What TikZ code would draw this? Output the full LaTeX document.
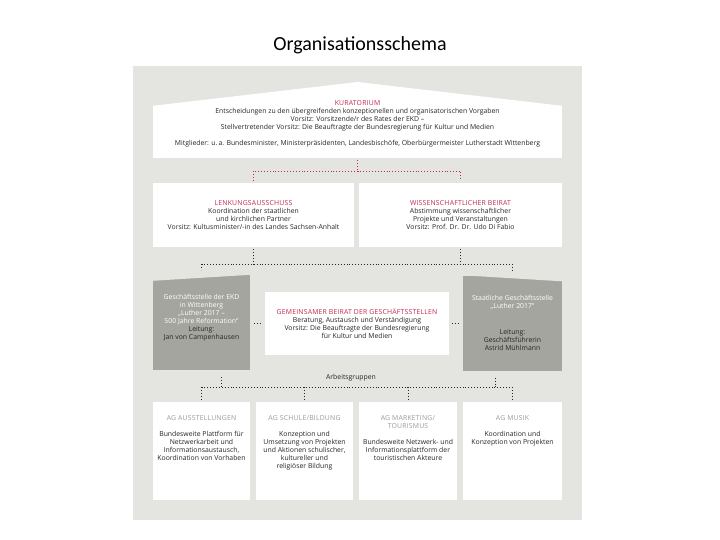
\documentclass[tikz,border=0pt]{standalone}
\usepackage{fontspec}
\setmainfont{Open Sans}
\newfontfamily\capsfont[LetterSpace=3]{Open Sans}
\newfontfamily\titlefont{Carlito}
\usepackage{xcolor}
\usetikzlibrary{positioning}
\definecolor{panelgrey}{HTML}{E4E5E0}
\definecolor{boxgrey}{HTML}{A4A59E}
\definecolor{kured}{HTML}{C2294F}
\definecolor{aggrey}{HTML}{9A9A98}
\definecolor{bodytext}{HTML}{262626}
\newcommand{\bodyfont}{\fontsize{6.85}{8}\selectfont}
\newcommand{\redhead}[1]{{\color{kured}\capsfont #1}}
\newcommand{\aghead}[1]{{\color{aggrey}\capsfont #1}}
\newcommand{\dark}[1]{{\color{bodytext}#1}}
\begin{document}
\begin{tikzpicture}[
x=1pt, y=-1pt,
Box/.style={fill=white, inner sep=0pt, align=center, text=bodytext, font=\bodyfont},
GreyBox/.style={fill=boxgrey, inner sep=0pt, align=center, text=white, font=\bodyfont},
Txt/.style={inner sep=0pt, align=center, text=bodytext, font=\bodyfont},
RedDots/.style={draw=kured, dotted, line width=0.9pt},
BlackDots/.style={draw=bodytext, dotted, line width=0.9pt}
]
\useasboundingbox (0,0) rectangle (720,540);
\fill[panelgrey] (133,66) rectangle (582,520);

\node[font=\titlefont\fontsize{20}{24}\selectfont] (title) at (360,45) {Organisationsschema};

% Kuratorium (house shape)
\coordinate (apex) at (357.5,82);
\node[Box, minimum width=409pt, minimum height=52pt] (kur) at (357.5,132) {};
\fill[white] (kur.north west) -- (apex) -- (kur.north east) -- cycle;
\node[Txt] (kurtxt) at (357.5,124) {\redhead{KURATORIUM}\\
Entscheidungen zu den übergreifenden konzeptionellen und organisatorischen Vorgaben\\
Vorsitz: Vorsitzende/r des Rates der EKD –\\
Stellvertretender Vorsitz: Die Beauftragte der Bundesregierung für Kultur und Medien\\[7.9pt]
Mitglieder: u.\,a. Bundesminister, Ministerpräsidenten, Landesbischöfe, Oberbürgermeister Lutherstadt Wittenberg};

% boards
\node[Box, minimum width=201pt, minimum height=64pt] (lenk) at (253.5,215) {\redhead{LENKUNGSAUSSCHUSS}\\
Koordination der staatlichen\\ und kirchlichen Partner\\
Vorsitz: Kultusminister/-in des Landes Sachsen-Anhalt};
\node[Box, minimum width=203pt, minimum height=64pt] (wiss) at (460.5,215) {\redhead{WISSENSCHAFTLICHER BEIRAT}\\
Abstimmung wissenschaftlicher\\ Projekte und Veranstaltungen\\
Vorsitz: Prof. Dr. Dr. Udo Di Fabio};

\coordinate (kurjoin) at (357.5,171);
\draw[RedDots, shorten <=2pt] (kur.south) -- (kurjoin);
\draw[RedDots, shorten >=2pt] (kurjoin) -- (lenk.north |- kurjoin) -- (lenk.north);
\draw[RedDots, shorten >=2pt] (kurjoin) -- (wiss.north |- kurjoin) -- (wiss.north);

% Geschaeftsstellen
\node[GreyBox, minimum width=97pt, minimum height=95pt] (gl) at (201.5,322.5) {};
\fill[panelgrey] (gl.north west) -- (gl.north east) -- ([yshift=-6pt]gl.north west) -- cycle;
\node[Txt, text=white] (gltxt) at (201.5,318) {Geschäftsstelle der EKD\\ in Wittenberg\\
„Luther 2017 –\\ 500 Jahre Reformation“\\ \dark{Leitung:}\\ \dark{Jan von Campenhausen}};

\node[GreyBox, minimum width=99pt, minimum height=95pt] (gr) at (512.5,323) {Staatliche Geschäftsstelle\\
„Luther 2017“\\[18pt] \dark{Leitung:}\\ \dark{Geschäftsführerin}\\ \dark{Astrid Mühlmann}};
\fill[panelgrey] (gr.north west) -- (gr.north east) -- ([yshift=-6pt]gr.north east) -- cycle;

\node[Box, minimum width=184pt, minimum height=63pt] (gm) at (357,323.5) {\redhead{GEMEINSAMER BEIRAT DER GESCHÄFTSSTELLEN}\\
Beratung, Austausch und Verständigung\\
Vorsitz: Die Beauftragte der Bundesregierung\\ für Kultur und Medien};

\coordinate (boardjoin) at (357,264);
\draw[BlackDots, shorten <=2pt] (lenk.south) -- (lenk.south |- boardjoin);
\draw[BlackDots, shorten <=2pt] (wiss.south) -- (wiss.south |- boardjoin);
\draw[BlackDots] (gl.north |- boardjoin) -- (gr.north |- boardjoin);
\draw[BlackDots, shorten >=5pt] (gl.north |- boardjoin) -- (gl.north);
\draw[BlackDots, shorten >=5pt] (gr.north |- boardjoin) -- (gr.north);

\draw[BlackDots] ([xshift=4pt]gm.west -| gl.east) -- ([xshift=-3pt]gm.west);
\draw[BlackDots] ([xshift=3pt]gm.east) -- ([xshift=-4pt]gm.east -| gr.west);

% Arbeitsgruppen
\node[Txt] (aglabel) at (351,378) {Arbeitsgruppen};

\node[Box, minimum width=97pt, minimum height=98pt] (ag1) at (201.5,451) {};
\node[Box, minimum width=97pt, minimum height=98pt] (ag2) at (304.5,451) {};
\node[Box, minimum width=98pt, minimum height=98pt] (ag3) at (408,451) {};
\node[Box, minimum width=99pt, minimum height=98pt] (ag4) at (512.5,451) {};

\node[Txt, anchor=north] (ag1txt) at ([yshift=-14pt]ag1.north) {\aghead{AG AUSSTELLUNGEN}\\[7.5pt]
Bundesweite Plattform für\\ Netzwerkarbeit und\\ Informationsaustausch,\\ Koordination von Vorhaben};
\node[Txt, anchor=north] (ag2txt) at ([yshift=-14pt]ag2.north) {\aghead{AG SCHULE/BILDUNG}\\[7.5pt]
Konzeption und\\ Umsetzung von Projekten\\ und Aktionen schulischer,\\ kultureller und\\ religiöser Bildung};
\node[Txt, anchor=north] (ag3txt) at ([yshift=-14pt]ag3.north) {\aghead{AG MARKETING/}\\ \aghead{TOURISMUS}\\[7.5pt]
Bundesweite Netzwerk- und\\ Informationsplattform der\\ touristischen Akteure};
\node[Txt, anchor=north] (ag4txt) at ([yshift=-14pt]ag4.north) {\aghead{AG MUSIK}\\[7.5pt]
Koordination und\\ Konzeption von Projekten};

\coordinate (agjoin) at (357,387);
\coordinate (tickl) at (221,387);
\coordinate (tickr) at (495,387);
\draw[BlackDots, shorten <=7pt] (gl.south -| tickl) -- (tickl);
\draw[BlackDots, shorten <=7pt] (gr.south -| tickr) -- (tickr);
\draw[BlackDots] (ag1.north |- agjoin) -- (ag4.north |- agjoin);
\draw[BlackDots, shorten >=3pt] (ag1.north |- agjoin) -- (ag1.north);
\draw[BlackDots, shorten >=3pt] (ag2.north |- agjoin) -- (ag2.north);
\draw[BlackDots, shorten >=3pt] (ag3.north |- agjoin) -- (ag3.north);
\draw[BlackDots, shorten >=3pt] (ag4.north |- agjoin) -- (ag4.north);

\end{tikzpicture}
\end{document}
